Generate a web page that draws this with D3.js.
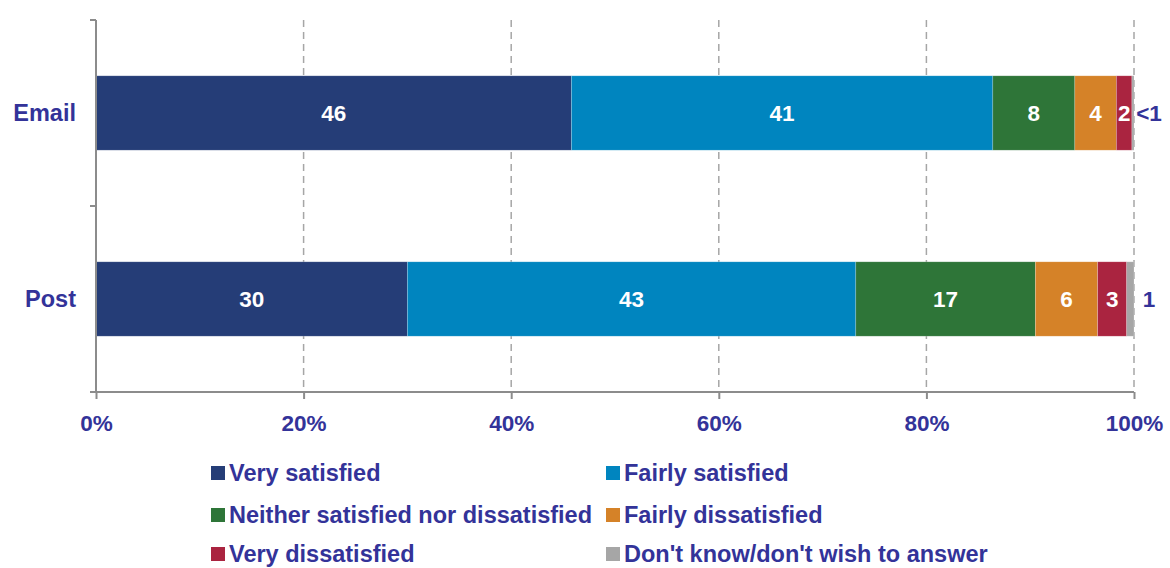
<!DOCTYPE html>
<html>
<head>
<meta charset="utf-8">
<script src="https://cdn.jsdelivr.net/npm/d3@7"></script>
<style>
  html, body { margin: 0; padding: 0; background: #fff; }
  svg { display: block; font-family: "Liberation Sans", Arial, sans-serif; font-weight: bold; }
</style>
</head>
<body>
<svg id="chart" width="1170" height="568"></svg>
<script>
const categories = ["Email", "Post"];
const seriesNames = ["Very satisfied", "Fairly satisfied", "Neither satisfied nor dissatisfied",
                     "Fairly dissatisfied", "Very dissatisfied", "Don't know/don't wish to answer"];
const seriesColors = ["#253D77", "#0085BF", "#2E7538", "#D58228", "#AA2440", "#A6A6A6"];
const emailValues = [45.8, 40.6, 7.9, 4.0, 1.5, 0.2];
const postValues  = [30.0, 43.2, 17.3, 6.0, 2.8, 0.7];
const emailLabels = ["46", "41", "8", "4", "2", "<1"];
const postLabels  = ["30", "43", "17", "6", "3", "1"];
const xTicks = [0, 20, 40, 60, 80, 100];

const values = [emailValues, postValues];
const labels = [emailLabels, postLabels];
const textColor = "#333399";

const svg = d3.select("#chart");
const x = d3.scaleLinear().domain([0, 100]).range([96, 1134]);
const y = d3.scaleBand().domain(categories).range([20, 392]).paddingInner(0.6).paddingOuter(0.3);

// gridlines
svg.append("g").selectAll("line").data(xTicks.filter(t => t > 0)).join("line")
  .attr("x1", d => x(d)).attr("x2", d => x(d))
  .attr("y1", 20).attr("y2", 392)
  .attr("stroke", "#a6a6a6").attr("stroke-width", 1.5).attr("stroke-dasharray", "7,5");

// bars
categories.forEach((cat, ci) => {
  let cum = 0;
  const g = svg.append("g");
  values[ci].forEach((v, si) => {
    const x0 = cum, x1 = cum + v;
    cum = x1;
    g.append("rect")
      .attr("x", x(x0)).attr("y", y(cat))
      .attr("width", x(x1) - x(x0)).attr("height", y.bandwidth())
      .attr("fill", seriesColors[si])
      .attr("stroke", "rgba(255,255,255,0.35)").attr("stroke-width", 0.6);
    const lab = labels[ci][si];
    const inside = si < 5;
    g.append("text")
      .attr("x", inside ? x((x0 + x1) / 2) : x(100) + 15)
      .attr("y", y(cat) + y.bandwidth() / 2)
      .attr("dy", "0.36em")
      .attr("text-anchor", "middle")
      .attr("font-size", 22.5)
      .attr("fill", inside ? "#fff" : textColor)
      .text(lab);
  });
});

// y axis
const yAxisG = svg.append("g");
yAxisG.append("line").attr("x1", 96).attr("x2", 96).attr("y1", 20).attr("y2", 392)
  .attr("stroke", "#8c8c8c").attr("stroke-width", 2);
[20, 206, 392].forEach(t => {
  yAxisG.append("line").attr("x1", 90).attr("x2", 96).attr("y1", t).attr("y2", t)
    .attr("stroke", "#8c8c8c").attr("stroke-width", 2);
});
yAxisG.selectAll("text").data(categories).join("text")
  .attr("x", 76).attr("y", d => y(d) + y.bandwidth() / 2).attr("dy", "0.36em")
  .attr("text-anchor", "end").attr("font-size", 23.5).attr("fill", textColor)
  .text(d => d);

// x axis
const xAxis = d3.axisBottom(x).tickValues(xTicks).tickFormat(d => d + "%").tickSize(7).tickSizeOuter(0);
const xg = svg.append("g").attr("transform", "translate(0,392)").call(xAxis);
xg.select(".domain").attr("stroke", "#8c8c8c").attr("stroke-width", 2).attr("d", "M94,0H" + x(100));
xg.selectAll(".tick line").attr("stroke", "#8c8c8c").attr("stroke-width", 2);
xg.selectAll(".tick text").attr("font-size", 22.5).attr("fill", textColor)
  .attr("font-family", "Liberation Sans, Arial, sans-serif").attr("font-weight", "bold")
  .attr("y", 0).attr("dy", "1.38em").attr("transform", "translate(0,8)");

// legend
const legendPos = [[211, 473], [606, 473], [211, 515], [606, 515], [211, 554], [606, 554]];
const lg = svg.append("g");
seriesNames.forEach((name, i) => {
  const [lx, ly] = legendPos[i];
  lg.append("rect").attr("x", lx).attr("y", ly - 7).attr("width", 14).attr("height", 14)
    .attr("fill", seriesColors[i]);
  lg.append("text").attr("x", lx + 18).attr("y", ly).attr("dy", "0.36em")
    .attr("font-size", 23.5).attr("fill", textColor).text(name);
});
</script>
</body>
</html>
